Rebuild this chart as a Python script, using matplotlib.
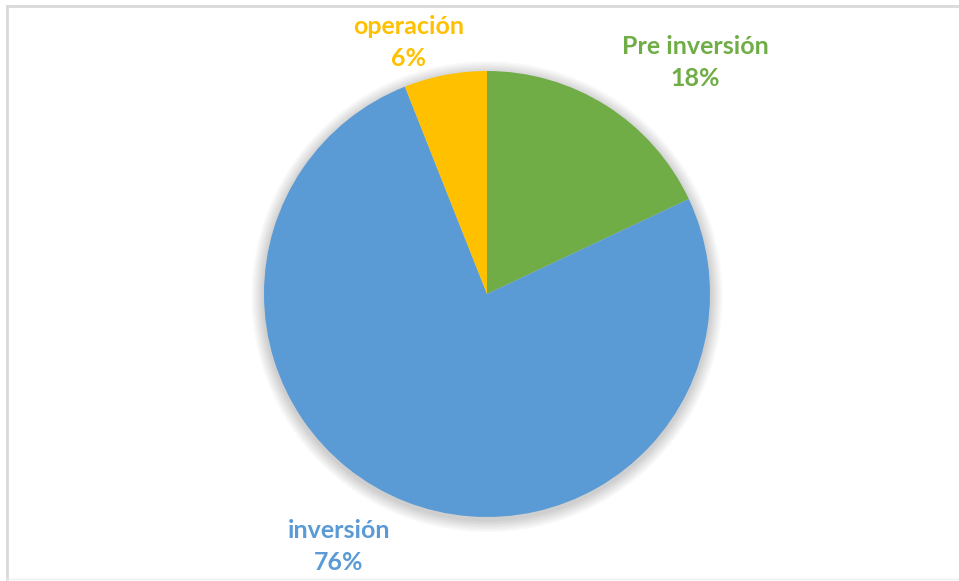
import matplotlib.pyplot as plt
from matplotlib.patches import Circle
from matplotlib.lines import Line2D

labels = ['Pre inversión', 'inversión', 'operación']
values = [18, 76, 6]
colors = ['#70AD47', '#5B9BD5', '#FFC000']

W, H = 959, 581
fig = plt.figure(figsize=(W / 100, H / 100), dpi=100)
fig.patch.set_facecolor('white')

# pie centre / radius in pixels
cx, cy, r = 487, 294, 223
ax = fig.add_axes([(cx - r) / W, (H - cy - r) / H, 2 * r / W, 2 * r / H])

wedges, _ = ax.pie(values, colors=colors, startangle=90, counterclock=False,
                   radius=1, wedgeprops=dict(linewidth=0))
for w in wedges:
    w.set_zorder(2)

# soft shadow under the pie
for k in range(8, 0, -1):
    ax.add_patch(Circle((0, -0.012), 1 + 0.007 * k, color='black',
                        alpha=0.025, lw=0, zorder=0, clip_on=False))

ax.set_xlim(-1, 1)
ax.set_ylim(-1, 1)
ax.set_aspect('equal')
ax.axis('off')

# labels (pixel positions of label centres)
label_pos = [(695, 47), (339, 531), (409, 27)]
for lab, v, c, (px, py) in zip(labels, values, colors, label_pos):
    fig.text(px / W, 1 - py / H, lab, color=c, fontsize=18, fontweight='bold',
             family='Lato', ha='center', va='center')
    fig.text(px / W, 1 - (py + 32) / H, f'{v}%', color=c, fontsize=18,
             fontweight='bold', family='Lato', ha='center', va='center')

# chart frame (left, top, bottom)
fx0, fy_top, fy_bot = 7 / W, 1 - 6 / H, 1 - 579 / H
fig.add_artist(Line2D([fx0, fx0], [fy_bot, fy_top], color='#D9D9D9', lw=2,
                      transform=fig.transFigure))
fig.add_artist(Line2D([fx0, 1], [fy_top, fy_top], color='#D9D9D9', lw=2,
                      transform=fig.transFigure))
fig.add_artist(Line2D([fx0, 1], [fy_bot, fy_bot], color='#EFEFEF', lw=1,
                      transform=fig.transFigure))

fig.savefig('out.png', dpi=100)
